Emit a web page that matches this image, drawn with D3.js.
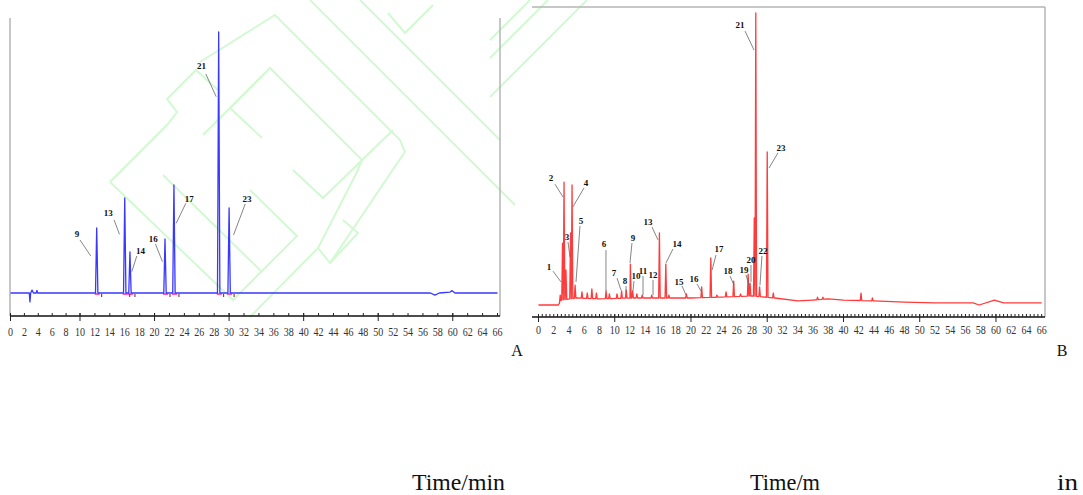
<!DOCTYPE html>
<html lang="en">
<head>
    <meta charset="UTF-8">
    <title>Chromatograms A and B</title>
    <script src="https://d3js.org/d3.v7.min.js"></script>
</head>

<style>
    body {
        margin: 0;
        padding: 0;
        background: #fff;
    }

    svg {
        display: block;
        font-family: "Liberation Serif", "DejaVu Serif", serif;
    }
</style>

<body>
<div class="chart-container"></div>

<script>
  /** DATA **/
  /** panel A (standards, blue) : baseline points [time, signal] and peak apexes [time, signal] */
  var baselineA = [[0, 0], [2.7, 0], [2.8, -3.4], [2.9, 0], [3.1, 1.1], [3.3, 0], [3.7, 0], [3.8, 1.0], [3.9, 0],
    [57.0, 0], [57.6, -0.8], [58.2, 0], [59.6, 0.3], [59.9, 0.9], [60.3, 0], [66, 0]];
  var peakTimesA = [12.24, 16.0, 16.7, 21.4, 22.6, 28.6, 30.0];
  var peakHeightsA = [24.9, 36.4, 15.7, 20.7, 41.4, 100, 32.6];

  /** peak labels for A : name, text position [t, v], leader from [t, v] to [t, v] */
  var labelNamesA = ['9', '13', '14', '16', '17', '21', '23'];
  var labelTextA = [[9.57, 22.6], [13.80, 30.8], [18.10, 16.2], [19.81, 20.7], [24.64, 35.9], [26.29, 87.0], [32.39, 36.0]];
  var labelLeaderA = [
    [[10.0, 20.3], [11.44, 14.2]],
    [[14.57, 28.0], [15.29, 22.5]],
    [[17.62, 14.2], [16.95, 8.2]],
    [[20.12, 18.8], [21.06, 12.0]],
    [[24.20, 34.4], [22.90, 26.7]],
    [[26.88, 83.9], [28.27, 75.2]],
    [[32.16, 34.1], [30.59, 22.2]]
  ];

  /** panel B (sample, red) */
  var baselineB = [[0, 0], [2.6, 0], [3.0, 1.7], [5, 2.4], [8, 2.1], [12, 2.4], [16, 2.4], [20, 2.4], [24, 2.7],
    [28, 3.1], [31, 2.4], [34, 1.4], [36, 1.7], [38, 2.1], [40, 1.7], [44, 1.4], [48, 1.0], [52, 0.7],
    [57, 0.7], [57.8, 0], [59.8, 1.7], [61, 0.7], [66, 0.7]];
  var peakTimesB = [2.85, 3.15, 3.35, 3.6, 4.2, 4.4, 4.8, 5.7, 6.4, 7.0, 7.6, 8.86, 9.3, 10.3, 10.9, 11.5,
    12.05, 12.35, 12.9, 13.6, 14.85, 15.86, 16.7, 17.1, 19.4, 21.4, 22.6, 23.4, 24.6, 25.6, 26.5, 27.5,
    27.75, 28.3, 28.5, 29.0, 30.0, 30.8, 36.6, 37.3, 42.3, 43.8];
  var peakHeightsB = [3.4, 21.2, 42.1, 12.0, 24.7, 41.1, 6.8, 4.5, 4.1, 5.5, 4.1, 4.8, 3.8, 3.8, 4.8, 5.1,
    14.0, 4.8, 3.8, 3.4, 3.4, 24.7, 14.0, 3.4, 3.8, 6.2, 16.1, 3.4, 4.5, 8.2, 3.8, 10.6,
    7.5, 29.8, 100, 6.2, 52.4, 4.1, 2.7, 2.7, 4.1, 2.4];

  var labelNamesB = ['1', '2', '3', '4', '5', '6', '7', '8', '9', '10', '11', '12', '13', '14', '15', '16',
    '17', '18', '19', '20', '21', '22', '23'];
  var labelTextB = [[1.38, 13.0], [1.64, 43.5], [3.74, 23.3], [6.23, 41.8], [5.57, 28.8], [8.59, 20.9],
    [9.90, 11.0], [11.35, 8.2], [12.39, 22.9], [12.79, 9.9], [13.71, 11.6], [15.02, 10.3], [14.36, 28.4],
    [18.17, 20.9], [18.43, 7.9], [20.40, 8.9], [23.67, 19.2], [24.86, 11.6], [26.95, 12.0], [27.87, 15.4],
    [26.43, 95.9], [29.45, 18.5], [31.81, 53.8]];
  var labelLeaderB = [
    [[1.90, 11.6], [2.95, 7.9]],
    [[2.16, 41.4], [3.21, 37.0]],
    [[3.87, 21.6], [4.13, 16.4]],
    [[5.97, 40.1], [4.52, 33.6]],
    [[5.44, 27.1], [4.92, 7.9]],
    [[8.85, 18.8], [8.85, 4.8]],
    [[10.30, 9.2], [10.82, 5.1]],
    [[11.48, 6.5], [11.48, 4.5]],
    [[12.26, 21.2], [12.00, 14.4]],
    [[12.53, 8.2], [12.39, 4.8]],
    [[13.71, 9.9], [13.71, 3.4]],
    [[15.02, 8.6], [15.02, 3.4]],
    [[14.89, 26.7], [15.67, 22.3]],
    [[17.64, 19.2], [16.72, 14.4]],
    [[18.83, 6.5], [19.35, 3.4]],
    [[20.79, 7.2], [21.31, 4.8]],
    [[23.28, 17.1], [22.77, 12.0]],
    [[25.12, 9.9], [25.65, 6.8]],
    [[27.22, 10.3], [27.61, 6.8]],
    [[27.87, 13.7], [27.87, 7.9]],
    [[27.09, 93.8], [28.27, 87.3]],
    [[29.31, 16.8], [29.05, 6.8]],
    [[31.41, 52.1], [30.23, 46.9]]
  ];

  /** shared axis labels */
  var tickLabelValues = d3.range(0, 67, 2);
  var axisTitles = ['Time/min', 'Time/m', 'in'];

  /** LAYOUT */
  var width = 1083, height = 495;
  var svg = d3.select('.chart-container').append('svg')
    .attr('width', width)
    .attr('height', height);

  /** panel A's printed axis is slightly stretched below 10 min, so its scale has a break at 10 */
  var panels = [
    {
      name: 'A', color: '#3838ff', baseline: baselineA, times: peakTimesA, heights: peakHeightsA,
      halfWidth: 0.16, names: labelNamesA, text: labelTextA, leaders: labelLeaderA,
      x: d3.scaleLinear().domain([0, 10, 66]).range([10.5, 80, 497.5]),
      y: d3.scaleLinear().domain([0, 100]).range([293, 32]),
      frameLeft: 10, frameRight: 500, frameTop: 18, axisY: 316, axisLeft: 10, minorStep: 2,
      labelY: 332, letterX: 517
    },
    {
      name: 'B', color: '#ff3b3b', baseline: baselineB, times: peakTimesB, heights: peakHeightsB,
      halfWidth: 0.1, names: labelNamesB, text: labelTextB, leaders: labelLeaderB,
      x: d3.scaleLinear().domain([0, 66]).range([538.5, 1041.7]),
      y: d3.scaleLinear().domain([0, 100]).range([305, 13]),
      frameLeft: null, frameRight: 1045, frameTop: 7, axisY: 317, axisLeft: 532, minorStep: 0.5,
      labelY: 330, letterX: 1062
    }
  ];

  /** watermark (faint green outline logo behind everything) */
  var watermark = [
    [[110, 182], [167, 125], [177, 112], [167, 99], [196, 70], [218, 90]],
    [[110, 182], [233, 300], [297, 236], [250, 190]],
    [[163, 175], [262, 272]],
    [[203, 135], [262, 76]],
    [[230, 108], [270, 68], [362, 160], [357, 172], [318, 248], [250, 317]],
    [[230, 108], [262, 138]],
    [[200, 62], [275, 15], [400, 140], [405, 152], [398, 162], [330, 263], [318, 248]],
    [[343, 220], [358, 233], [330, 263]],
    [[310, 0], [450, 140], [515, 205]],
    [[360, 0], [450, 90], [500, 140]],
    [[388, 13], [405, 33], [433, 5]],
    [[490, 40], [530, 0]],
    [[490, 58], [548, 0]],
    [[490, 97], [587, 0]],
    [[293, 170], [323, 198], [393, 130]]
  ];
  svg.append('g')
    .selectAll('path')
    .data(watermark)
    .enter().append('path')
    .attr('d', d3.line())
    .attr('fill', 'none')
    .attr('stroke', '#d2f9d2')
    .attr('stroke-width', 2);

  panels.forEach(function (p) {
    var g = svg.append('g').classed('panel_' + p.name, true);

    /** frame lines */
    g.append('line')
      .attr('x1', p.frameRight).attr('x2', p.frameRight)
      .attr('y1', p.frameTop).attr('y2', p.axisY)
      .attr('stroke', '#b4b4b4').attr('stroke-width', 1.5);
    if (p.frameLeft !== null) {
      g.append('line')
        .attr('x1', p.frameLeft).attr('x2', p.frameLeft)
        .attr('y1', p.frameTop).attr('y2', p.axisY)
        .attr('stroke', '#b4b4b4').attr('stroke-width', 1.5);
    } else {
      g.append('line')
        .attr('x1', p.axisLeft).attr('x2', p.frameRight)
        .attr('y1', p.frameTop).attr('y2', p.frameTop)
        .attr('stroke', '#b4b4b4').attr('stroke-width', 1.5);
    }

    /** build the trace: baseline points plus a narrow spike up to each peak apex */
    var baseAt = d3.scaleLinear()
      .domain(p.baseline.map(function (d) { return d[0]; }))
      .range(p.baseline.map(function (d) { return d[1]; }));
    var pts = p.baseline.slice();
    p.times.forEach(function (t, i) {
      var hw = p.halfWidth;
      pts.push([t - hw, baseAt(t - hw)]);
      pts.push([t, p.heights[i]]);
      pts.push([t + hw, baseAt(t + hw)]);
    });
    pts.sort(function (a, b) { return a[0] - b[0]; });

    var line = d3.line()
      .x(function (d) { return p.x(d[0]); })
      .y(function (d) { return p.y(d[1]); });

    /** integration marks at the peak bases (panel A only) */
    if (p.name === 'A') {
      g.selectAll('.base_mark')
        .data(p.times)
        .enter().append('line')
        .classed('base_mark', true)
        .attr('x1', function (t) { return p.x(t) - 2; })
        .attr('x2', function (t) { return p.x(t) + 3; })
        .attr('y1', p.y(0) + 1).attr('y2', p.y(0) + 1)
        .attr('stroke', '#ff55cc').attr('stroke-width', 2);
      g.selectAll('.end_mark')
        .data(p.times)
        .enter().append('line')
        .classed('end_mark', true)
        .attr('x1', function (t) { return p.x(t) + 5; })
        .attr('x2', function (t) { return p.x(t) + 5; })
        .attr('y1', p.y(0) + 1).attr('y2', p.y(0) + 4)
        .attr('stroke', '#702020').attr('stroke-width', 1);
    }

    g.append('path')
      .datum(pts)
      .attr('d', line)
      .attr('fill', 'none')
      .attr('stroke', p.color)
      .attr('stroke-width', 1.3)
      .attr('stroke-linejoin', 'round');

    /** peak labels with leader lines */
    g.selectAll('.leader')
      .data(p.leaders)
      .enter().append('line')
      .classed('leader', true)
      .attr('x1', function (d) { return p.x(d[0][0]); })
      .attr('y1', function (d) { return p.y(d[0][1]); })
      .attr('x2', function (d) { return p.x(d[1][0]); })
      .attr('y2', function (d) { return p.y(d[1][1]); })
      .attr('stroke', '#666').attr('stroke-width', 0.8);

    g.selectAll('.peak_label')
      .data(p.names)
      .enter().append('text')
      .classed('peak_label', true)
      .attr('x', function (_, i) { return p.x(p.text[i][0]); })
      .attr('y', function (_, i) { return p.y(p.text[i][1]); })
      .attr('dy', '.35em')
      .attr('text-anchor', 'middle')
      .style('font-size', '9px')
      .style('font-weight', 'bold')
      .attr('fill', '#111')
      .text(function (d) { return d; });

    /** time axis */
    g.append('line')
      .attr('x1', p.axisLeft).attr('x2', p.frameRight)
      .attr('y1', p.axisY).attr('y2', p.axisY)
      .attr('stroke', '#111').attr('stroke-width', 1.6);

    var minorTicks = d3.range(0, 66.01, p.minorStep);
    g.selectAll('.minor_tick')
      .data(minorTicks)
      .enter().append('line')
      .classed('minor_tick', true)
      .attr('x1', function (d) { return p.x(d); })
      .attr('x2', function (d) { return p.x(d); })
      .attr('y1', p.axisY)
      .attr('y2', p.axisY - 3)
      .attr('stroke', '#222').attr('stroke-width', 1);

    g.selectAll('.major_tick')
      .data(d3.range(0, 67, 10))
      .enter().append('line')
      .classed('major_tick', true)
      .attr('x1', function (d) { return p.x(d); })
      .attr('x2', function (d) { return p.x(d); })
      .attr('y1', p.axisY - 3)
      .attr('y2', p.axisY + 5)
      .attr('stroke', '#222').attr('stroke-width', 1);

    /** tick labels are narrow, tall serif digits */
    g.selectAll('.tick_label')
      .data(tickLabelValues)
      .enter().append('text')
      .classed('tick_label', true)
      .attr('x', function (d) { return p.x(d); })
      .attr('y', p.labelY)
      .attr('dy', '.35em')
      .attr('text-anchor', 'middle')
      .attr('textLength', function (d) { return String(d).length * 5; })
      .attr('lengthAdjust', 'spacingAndGlyphs')
      .style('font-size', '12px')
      .attr('fill', '#333')
      .text(function (d) { return d; });

    /** panel letter */
    g.append('text')
      .attr('x', p.letterX)
      .attr('y', 356)
      .attr('text-anchor', 'middle')
      .style('font-size', '16px')
      .attr('fill', '#111')
      .text(p.name);
  });

  /** axis titles along the bottom */
  var titleX = [412, 750, 1057];
  var titleW = [93, 70, 21];
  svg.selectAll('.axis_title')
    .data(axisTitles)
    .enter().append('text')
    .classed('axis_title', true)
    .attr('x', function (_, i) { return titleX[i]; })
    .attr('y', 490)
    .attr('textLength', function (_, i) { return titleW[i]; })
    .attr('lengthAdjust', 'spacingAndGlyphs')
    .style('font-size', '24px')
    .attr('fill', '#111')
    .text(function (d) { return d; });
</script>
</body>
</html>
